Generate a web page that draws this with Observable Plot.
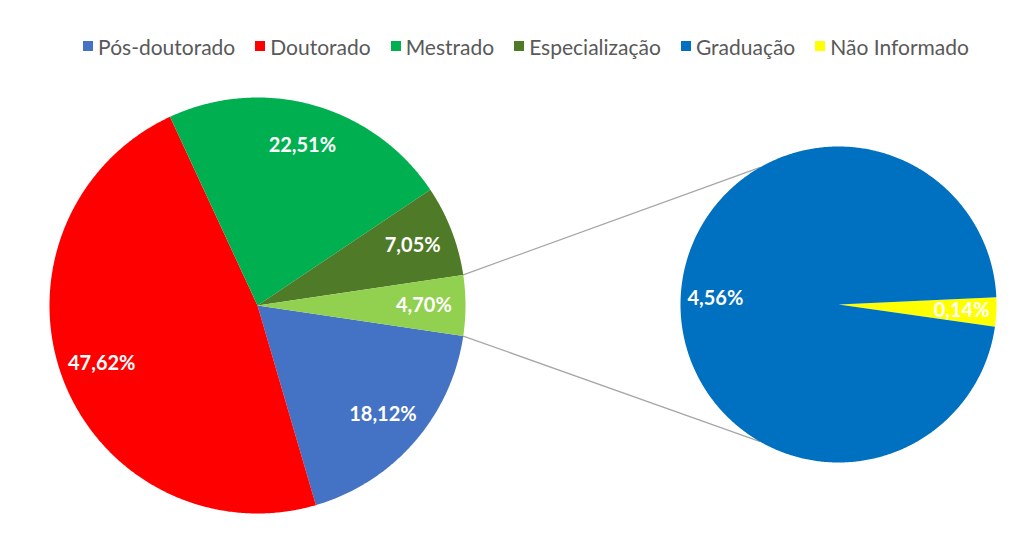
<!DOCTYPE html>
<html><head><meta charset="utf-8">
<script src="https://cdn.jsdelivr.net/npm/d3@7"></script>
<script src="https://cdn.jsdelivr.net/npm/@observablehq/plot@0.6"></script>
<style>
html,body{margin:0;padding:0;background:#fff;}
body{width:1022px;height:534px;overflow:hidden;font-family:Lato,"Open Sans",sans-serif;}
#legend{display:flex;justify-content:center;box-sizing:border-box;height:80px;padding-top:33px;padding-left:30px;gap:20px;}
.item{display:flex;align-items:center;height:26px;color:#595959;font-size:21px;white-space:nowrap;}
.sw{width:10px;height:10px;margin-right:5px;}
</style>
</head><body>
<div id="legend"></div>
<div id="chart"></div>
<script>
// ---- data ----
const categories = ["Pós-doutorado", "Doutorado", "Mestrado", "Especialização", "Graduação", "Não Informado"];
const colors = ["#4472C4", "#FF0000", "#00B050", "#4F7A28", "#0070C0", "#FFFF00"];
const mainCategories = ["Pós-doutorado", "Doutorado", "Mestrado", "Especialização", "Outros"];
const mainValues = [18.12, 47.62, 22.51, 7.05, 4.70];
const mainColors = ["#4472C4", "#FF0000", "#00B050", "#4F7A28", "#92D050"];
const subCategories = ["Não Informado", "Graduação"];
const subValues = [0.14, 4.56];
const subColors = ["#FFFF00", "#0070C0"];

// ---- layout ----
const W = 1022, H = 454;
const mainPie = {cx: 257, cy: 225, r: 208, labelK: 0.8};
const subPie = {cx: 838, cy: 224, r: 158, labelK: 0.78};
const subStart = -2.65;          // degrees, clockwise from east
const subConnect = [240, 120];   // connector end angles on second pie

const fmt = v => v.toFixed(2).replace(".", ",") + "%";
const rad = d => d * Math.PI / 180;

function buildPie(names, values, cols, pie, startDeg) {
  const total = d3.sum(values);
  const polys = [], labels = [], bounds = [];
  let a = startDeg;
  names.forEach((n, i) => {
    const span = values[i] / total * 360;
    const a0 = a, a1 = a + span;
    const steps = Math.max(2, Math.ceil(span / 0.5));
    polys.push({name: n, color: cols[i], x: pie.cx, y: pie.cy});
    for (let k = 0; k <= steps; k++) {
      const t = rad(a0 + (a1 - a0) * k / steps);
      polys.push({name: n, color: cols[i], x: pie.cx + pie.r * Math.cos(t), y: pie.cy + pie.r * Math.sin(t)});
    }
    const m = rad((a0 + a1) / 2);
    labels.push({text: fmt(values[i]), x: pie.cx + pie.r * pie.labelK * Math.cos(m), y: pie.cy + pie.r * pie.labelK * Math.sin(m)});
    bounds.push([a0, a1]);
    a = a1;
  });
  return {polys, labels, bounds};
}

// main pie: "Outros" slice centred on 3 o'clock, series runs clockwise from its lower edge
const mainTotal = d3.sum(mainValues);
const mainStart = mainValues[mainValues.length - 1] / mainTotal * 360 / 2;
const M = buildPie(mainCategories, mainValues, mainColors, mainPie, mainStart);
const S = buildPie(subCategories, subValues, subColors, subPie, subStart);

// connectors from the "Outros" slice edges to the second pie
const ob = M.bounds[M.bounds.length - 1];
const connectors = [
  {id: "top", x: mainPie.cx + mainPie.r * Math.cos(rad(ob[0])), y: mainPie.cy + mainPie.r * Math.sin(rad(ob[0]))},
  {id: "top", x: subPie.cx + subPie.r * Math.cos(rad(subConnect[0])), y: subPie.cy + subPie.r * Math.sin(rad(subConnect[0]))},
  {id: "bot", x: mainPie.cx + mainPie.r * Math.cos(rad(ob[1])), y: mainPie.cy + mainPie.r * Math.sin(rad(ob[1]))},
  {id: "bot", x: subPie.cx + subPie.r * Math.cos(rad(subConnect[1])), y: subPie.cy + subPie.r * Math.sin(rad(subConnect[1]))}
];

// legend
const lg = document.getElementById("legend");
categories.forEach((c, i) => {
  const it = document.createElement("div"); it.className = "item";
  const sw = document.createElement("span"); sw.className = "sw"; sw.style.background = colors[i];
  const tx = document.createElement("span"); tx.textContent = c;
  it.appendChild(sw); it.appendChild(tx); lg.appendChild(it);
});

const chart = Plot.plot({
  width: W, height: H,
  margin: 0,
  x: {domain: [0, W], range: [0, W], axis: null},
  y: {domain: [0, H], range: [0, H], axis: null},
  color: {type: "identity"},
  style: {background: "#fff"},
  marks: [
    Plot.line(connectors, {x: "x", y: "y", z: "id", stroke: "#A6A6A6", strokeWidth: 1.2}),
    Plot.line(M.polys, {x: "x", y: "y", z: "name", fill: "color", stroke: "none", curve: "linear-closed"}),
    Plot.line(S.polys, {x: "x", y: "y", z: "name", fill: "color", stroke: "none", curve: "linear-closed"}),
    Plot.text(M.labels.concat(S.labels), {x: "x", y: "y", text: "text", fill: "white", fontSize: 20, fontWeight: "bold", fontFamily: "Lato, sans-serif"})
  ]
});
document.getElementById("chart").appendChild(chart);
</script>
</body></html>
